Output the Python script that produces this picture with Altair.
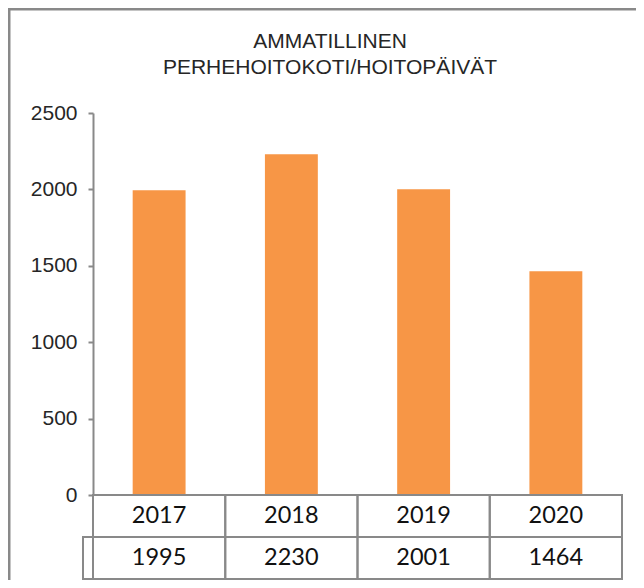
import altair as alt
import pandas as pd

years = ["2017", "2018", "2019", "2020"]
values = [1995, 2230, 2001, 1464]
title_lines = ["AMMATILLINEN", "PERHEHOITOKOTI/HOITOPÄIVÄT"]
y_ticks = [0, 500, 1000, 1500, 2000, 2500]

df = pd.DataFrame({"year": years, "value": values})
df["value_label"] = df["value"].astype(str)
one = pd.DataFrame({"k": [0]})

W, H = 529, 382
ROW = 42
GRAY = "#898989"
ORANGE = "#F79646"
TEXT = "#262626"

x = alt.X("year:N", sort=years, scale=alt.Scale(paddingInner=0, paddingOuter=0), axis=None)
y = alt.Y(
    "value:Q",
    scale=alt.Scale(domain=[0, 2500], nice=False),
    axis=alt.Axis(
        values=y_ticks, format="d", title=None, grid=False, domainColor=GRAY, domainWidth=2,
        tickColor=GRAY, tickWidth=2, tickSize=5, labelPadding=11,
        labelFont="Liberation Sans", labelFontSize=21, labelColor=TEXT,
    ),
)

bars = alt.Chart(df).mark_bar(width=alt.RelativeBandSize(0.4), color=ORANGE).encode(x=x, y=y)

row1 = alt.Chart(df).mark_rect(fillOpacity=0, stroke=GRAY, strokeWidth=2).encode(
    x=x, y=alt.value(H), y2=alt.value(H + ROW)
)
row2 = alt.Chart(df).mark_rect(fillOpacity=0, stroke=GRAY, strokeWidth=2).encode(
    x=x, y=alt.value(H + ROW), y2=alt.value(H + 2 * ROW)
)
key = alt.Chart(one).mark_rect(fillOpacity=0, stroke=GRAY, strokeWidth=2).encode(
    x=alt.value(-10), x2=alt.value(0), y=alt.value(H + ROW), y2=alt.value(H + 2 * ROW)
)
txt1 = alt.Chart(df).mark_text(font="Lato", fontSize=23.5, color="#111111", baseline="middle").encode(
    x=x, y=alt.value(H + ROW / 2), text="year:N"
)
txt2 = alt.Chart(df).mark_text(font="Lato", fontSize=23.5, color="#111111", baseline="middle").encode(
    x=x, y=alt.value(H + ROW + ROW / 2), text="value_label:N"
)
border_left = alt.Chart(one).mark_rule(stroke=GRAY, strokeWidth=2.5).encode(
    x=alt.value(-83.75), y=alt.value(-105), y2=alt.value(H + 90)
)
border_top = alt.Chart(one).mark_rule(stroke=GRAY, strokeWidth=2.5).encode(
    y=alt.value(-103.75), x=alt.value(-85), x2=alt.value(W + 20)
)
title1 = alt.Chart(one).mark_text(
    text=title_lines[0], font="Liberation Sans", fontSize=21, color=TEXT, baseline="middle", align="center"
).encode(x=alt.value(237), y=alt.value(-71))
title2 = alt.Chart(one).mark_text(
    text=title_lines[1], font="Liberation Sans", fontSize=21, color=TEXT, baseline="middle", align="center"
).encode(x=alt.value(237), y=alt.value(-45))

chart = alt.layer(
    bars, row1, row2, key, txt1, txt2, border_left, border_top, title1, title2
).properties(
    width=W,
    height=H,
    autosize="none",
    padding={"left": 85, "top": 105, "right": 14, "bottom": 85},
).configure_view(strokeWidth=0)

chart.save("out.html", embed_options={"renderer": "svg", "actions": False})
